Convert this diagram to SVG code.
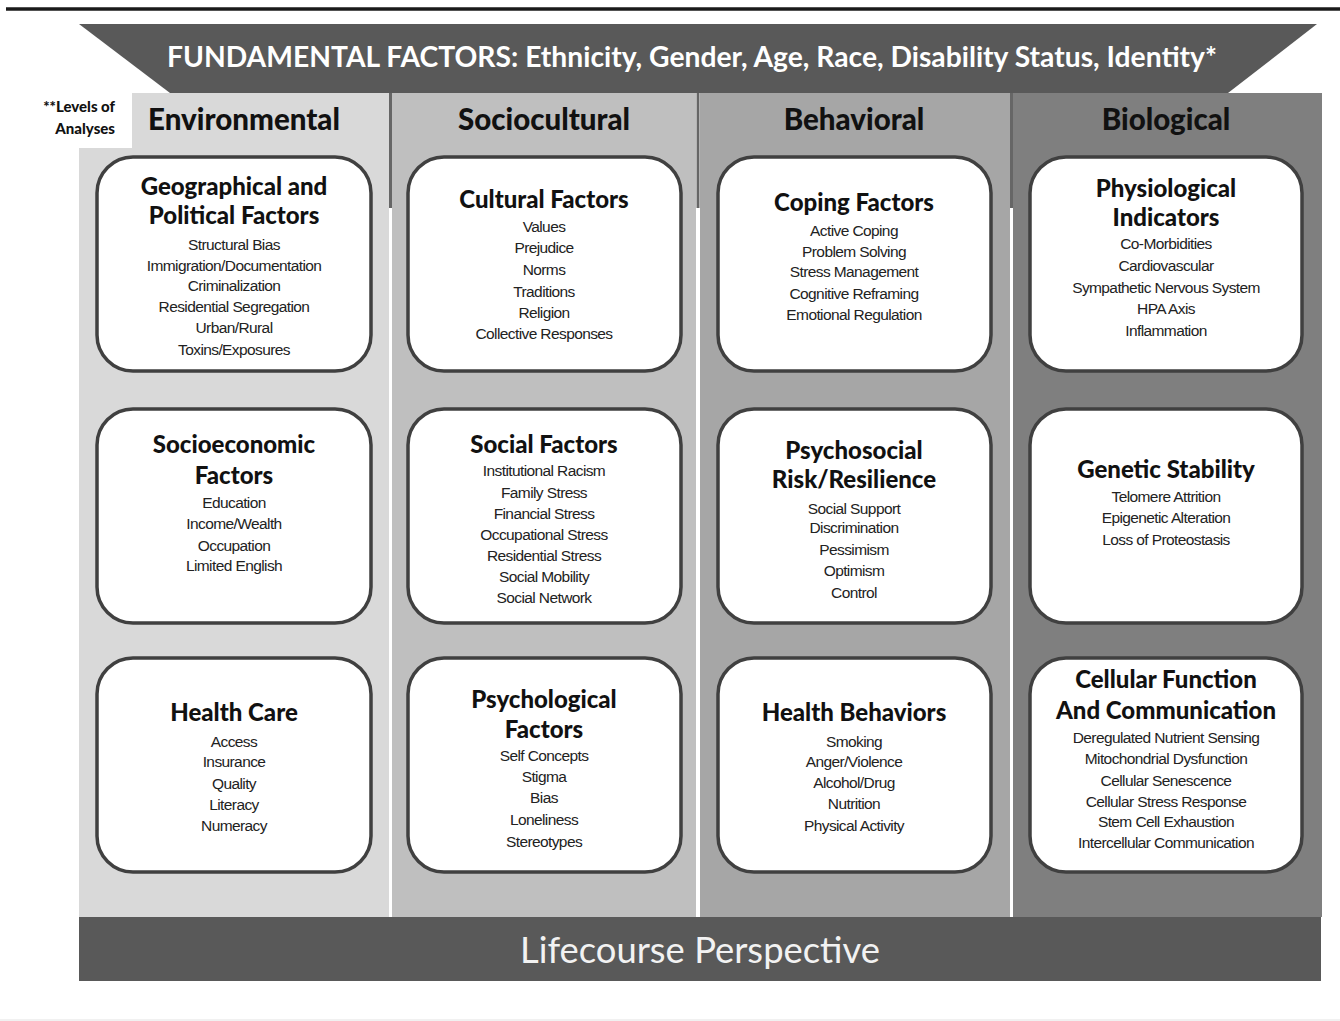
<svg xmlns="http://www.w3.org/2000/svg" width="1340" height="1021" viewBox="0 0 1340 1021">
<style>
.hdr{font-family:Lato,"Open Sans","Liberation Sans",sans-serif;font-weight:900;font-size:29.5px;fill:#111;text-anchor:middle}
.ttl{font-family:Lato,"Open Sans","Liberation Sans",sans-serif;font-weight:900;font-size:24px;fill:#111;text-anchor:middle}
.itm{font-family:"Liberation Sans",Arial,sans-serif;font-size:15.5px;letter-spacing:-0.6px;fill:#222;text-anchor:middle}
.box{fill:#fff;stroke:#404040;stroke-width:3.5}
.sep{stroke:#666;stroke-width:3}
</style>
<rect x="0" y="0" width="1340" height="1021" fill="#fff"/>
<line x1="6" y1="9" x2="1340" y2="9" stroke="#1a1a1a" stroke-width="3.5"/>
<line x1="0" y1="1020" x2="1340" y2="1020" stroke="#ececec" stroke-width="1.5"/>
<g id="banner">
<polygon points="79,24 1317,24 1228,93 170,93" fill="#595959"/>
<text x="692" y="67" font-family="Lato,'Open Sans','Liberation Sans',sans-serif" font-weight="bold" font-size="28" fill="#fff" text-anchor="middle" textLength="1050" lengthAdjust="spacingAndGlyphs">FUNDAMENTAL FACTORS: Ethnicity, Gender, Age, Race, Disability Status, Identity*</text>
</g>
<g id="columns">
<rect x="132" y="93" width="257" height="56" fill="#d9d9d9"/>
<rect x="79" y="148" width="310" height="769" fill="#d9d9d9"/>
<rect x="392" y="93" width="304" height="824" fill="#bfbfbf"/>
<rect x="700" y="93" width="310" height="824" fill="#a6a6a6"/>
<rect x="1013" y="93" width="309" height="824" fill="#7f7f7f"/>
<line class="sep" x1="390.5" y1="93" x2="390.5" y2="208"/>
<line class="sep" x1="698" y1="93" x2="698" y2="208"/>
<line class="sep" x1="1011.5" y1="93" x2="1011.5" y2="208"/>
</g>
<g id="levels-label" font-family="Lato,'Open Sans','Liberation Sans',sans-serif" font-weight="900" font-size="15" fill="#111" text-anchor="end">
<text x="115" y="112">**Levels of</text>
<text x="115" y="134">Analyses</text>
</g>
<g id="headers">
<text class="hdr" x="244" y="130">Environmental</text>
<text class="hdr" x="544" y="130">Sociocultural</text>
<text class="hdr" x="854" y="130">Behavioral</text>
<text class="hdr" x="1166" y="130">Biological</text>
</g>
<g id="geo">
<rect class="box" x="97" y="157" width="274" height="214" rx="36"/>
<text class="ttl" x="234" y="195">Geographical and</text>
<text class="ttl" x="234" y="224">Political Factors</text>
<text class="itm" x="234" y="250">Structural Bias</text>
<text class="itm" x="234" y="271">Immigration/Documentation</text>
<text class="itm" x="234" y="291">Criminalization</text>
<text class="itm" x="234" y="312">Residential Segregation</text>
<text class="itm" x="234" y="333">Urban/Rural</text>
<text class="itm" x="234" y="355">Toxins/Exposures</text>
</g>
<g id="socioeconomic">
<rect class="box" x="97" y="409" width="274" height="214" rx="36"/>
<text class="ttl" x="234" y="453">Socioeconomic</text>
<text class="ttl" x="234" y="484">Factors</text>
<text class="itm" x="234" y="508">Education</text>
<text class="itm" x="234" y="529">Income/Wealth</text>
<text class="itm" x="234" y="551">Occupation</text>
<text class="itm" x="234" y="571">Limited English</text>
</g>
<g id="healthcare">
<rect class="box" x="97" y="658" width="274" height="214" rx="36"/>
<text class="ttl" x="234" y="721">Health Care</text>
<text class="itm" x="234" y="747">Access</text>
<text class="itm" x="234" y="767">Insurance</text>
<text class="itm" x="234" y="789">Quality</text>
<text class="itm" x="234" y="810">Literacy</text>
<text class="itm" x="234" y="831">Numeracy</text>
</g>
<g id="cultural">
<rect class="box" x="408" y="157" width="273" height="214" rx="36"/>
<text class="ttl" x="544" y="208">Cultural Factors</text>
<text class="itm" x="544" y="232">Values</text>
<text class="itm" x="544" y="253">Prejudice</text>
<text class="itm" x="544" y="275">Norms</text>
<text class="itm" x="544" y="297">Traditions</text>
<text class="itm" x="544" y="318">Religion</text>
<text class="itm" x="544" y="339">Collective Responses</text>
</g>
<g id="social">
<rect class="box" x="408" y="409" width="273" height="214" rx="36"/>
<text class="ttl" x="544" y="453">Social Factors</text>
<text class="itm" x="544" y="476">Institutional Racism</text>
<text class="itm" x="544" y="498">Family Stress</text>
<text class="itm" x="544" y="519">Financial Stress</text>
<text class="itm" x="544" y="540">Occupational Stress</text>
<text class="itm" x="544" y="561">Residential Stress</text>
<text class="itm" x="544" y="582">Social Mobility</text>
<text class="itm" x="544" y="603">Social Network</text>
</g>
<g id="psychological">
<rect class="box" x="408" y="658" width="273" height="214" rx="36"/>
<text class="ttl" x="544" y="708">Psychological</text>
<text class="ttl" x="544" y="738">Factors</text>
<text class="itm" x="544" y="761">Self Concepts</text>
<text class="itm" x="544" y="782">Stigma</text>
<text class="itm" x="544" y="803">Bias</text>
<text class="itm" x="544" y="825">Loneliness</text>
<text class="itm" x="544" y="847">Stereotypes</text>
</g>
<g id="coping">
<rect class="box" x="718" y="157" width="273" height="214" rx="36"/>
<text class="ttl" x="854" y="211">Coping Factors</text>
<text class="itm" x="854" y="236">Active Coping</text>
<text class="itm" x="854" y="257">Problem Solving</text>
<text class="itm" x="854" y="277">Stress Management</text>
<text class="itm" x="854" y="299">Cognitive Reframing</text>
<text class="itm" x="854" y="320">Emotional Regulation</text>
</g>
<g id="psychosocial">
<rect class="box" x="718" y="409" width="273" height="214" rx="36"/>
<text class="ttl" x="854" y="459">Psychosocial</text>
<text class="ttl" x="854" y="488">Risk/Resilience</text>
<text class="itm" x="854" y="514">Social Support</text>
<text class="itm" x="854" y="533">Discrimination</text>
<text class="itm" x="854" y="555">Pessimism</text>
<text class="itm" x="854" y="576">Optimism</text>
<text class="itm" x="854" y="598">Control</text>
</g>
<g id="healthbehaviors">
<rect class="box" x="718" y="658" width="273" height="214" rx="36"/>
<text class="ttl" x="854" y="721">Health Behaviors</text>
<text class="itm" x="854" y="747">Smoking</text>
<text class="itm" x="854" y="767">Anger/Violence</text>
<text class="itm" x="854" y="788">Alcohol/Drug</text>
<text class="itm" x="854" y="809">Nutrition</text>
<text class="itm" x="854" y="831">Physical Activity</text>
</g>
<g id="physiological">
<rect class="box" x="1030" y="157" width="272" height="214" rx="36"/>
<text class="ttl" x="1166" y="197">Physiological</text>
<text class="ttl" x="1166" y="226">Indicators</text>
<text class="itm" x="1166" y="249">Co-Morbidities</text>
<text class="itm" x="1166" y="271">Cardiovascular</text>
<text class="itm" x="1166" y="293">Sympathetic Nervous System</text>
<text class="itm" x="1166" y="314">HPA Axis</text>
<text class="itm" x="1166" y="336">Inflammation</text>
</g>
<g id="genetic">
<rect class="box" x="1030" y="409" width="272" height="214" rx="36"/>
<text class="ttl" x="1166" y="478">Genetic Stability</text>
<text class="itm" x="1166" y="502">Telomere Attrition</text>
<text class="itm" x="1166" y="523">Epigenetic Alteration</text>
<text class="itm" x="1166" y="545">Loss of Proteostasis</text>
</g>
<g id="cellular">
<rect class="box" x="1030" y="658" width="272" height="214" rx="36"/>
<text class="ttl" x="1166" y="688">Cellular Function</text>
<text class="ttl" x="1166" y="719">And Communication</text>
<text class="itm" x="1166" y="743">Deregulated Nutrient Sensing</text>
<text class="itm" x="1166" y="764">Mitochondrial Dysfunction</text>
<text class="itm" x="1166" y="786">Cellular Senescence</text>
<text class="itm" x="1166" y="807">Cellular Stress Response</text>
<text class="itm" x="1166" y="827">Stem Cell Exhaustion</text>
<text class="itm" x="1166" y="848">Intercellular Communication</text>
</g>
<g id="lifecourse">
<rect x="79" y="917" width="1242" height="64" fill="#595959"/>
<text x="700" y="963" font-family="Lato,'Open Sans','Liberation Sans',sans-serif" font-size="37" fill="#f2f2f2" text-anchor="middle" textLength="360" lengthAdjust="spacingAndGlyphs">Lifecourse Perspective</text>
</g>
<g id="connectors"></g>
</svg>
